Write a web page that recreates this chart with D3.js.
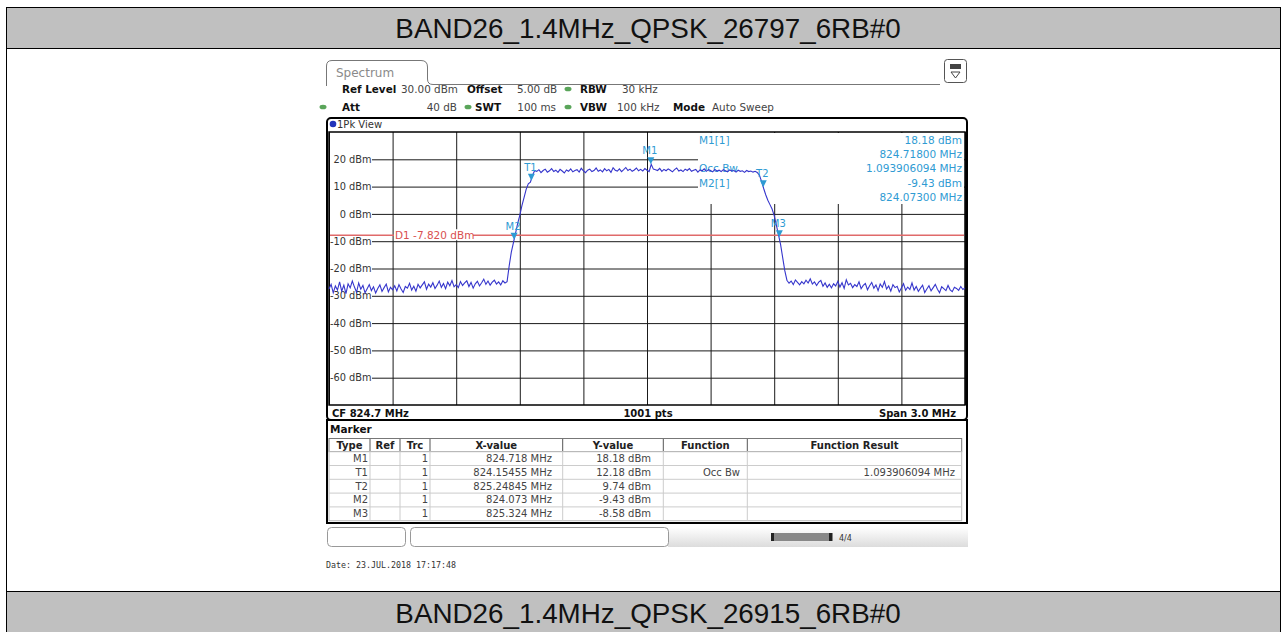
<!DOCTYPE html>
<html>
<head>
<meta charset="utf-8">
<script src="https://cdn.jsdelivr.net/npm/d3@7"></script>
<style>
  body { margin: 0; background: #fff; }
  text { font-family: "DejaVu Sans", Verdana, sans-serif; }
</style>
</head>
<body>
<div id="chart-area"></div>
<script>

// DATA
let titleTop = "BAND26_1.4MHz_QPSK_26797_6RB#0",
    titleBottom = "BAND26_1.4MHz_QPSK_26915_6RB#0";

// trace 1 (1Pk View) every 10 kHz from 823.2 MHz
let freqStart = 823.2,
    freqStop = 826.2,
    freqStep = 0.01;

let noiseLeft = [
  -27.5,-25.8,-28.9,-26.4,-27.9,-24.9,-28.3,-26.1,-29.2,-25.6,
  -27.1,-24.6,-26.8,-28.7,-25.3,-27.6,-26.2,-28.9,-27.4,-25.9,
  -28.1,-26.7,-29.0,-27.3,-26.0,-28.4,-27.0,-25.7,-28.6,-26.9,
  -27.8,-26.3,-28.2,-25.9,-27.5,-28.8,-26.6,-27.2,-25.4,-27.9,
  -26.5,-28.3,-25.8,-27.1,-26.0,-24.9,-27.6,-25.7,-26.8,-25.2,
  -27.3,-26.1,-24.6,-26.9,-25.5,-27.4,-25.0,-26.3,-24.4,-26.7,
  -25.9,-27.0,-24.8,-26.2,-25.3,-24.5,-26.6,-25.1,-27.2,-25.6,
  -24.7,-26.4,-25.2,-23.9,-25.8,-24.6,-26.1,-25.0,-24.3,-25.7,
  -24.9,-26.0,-24.5,-25.3,-24.8
];
let riseEdge = [-19,-14,-10.5,-7,-3.5,-0.5,3,6,9,11,11.6,14.2,15.8];
let plateau = [
  15.6,16.2,15.1,15.9,16.4,15.3,15.8,16.6,15.5,16.0,
  15.2,16.3,15.7,15.0,16.1,15.6,16.5,15.4,15.9,16.2,
  15.3,16.7,15.8,15.1,16.0,16.4,15.5,15.9,16.8,15.6,
  16.1,15.4,16.6,15.8,16.3,15.2,16.9,16.0,15.7,16.5,
  15.5,16.2,17.0,15.9,16.4,15.6,16.1,16.8,15.8,16.3,
  15.7,16.6,16.0,15.5,18.18,16.4,16.2,15.9,16.7,15.6,
  16.3,15.8,16.5,16.0,15.4,16.2,16.8,15.7,16.1,15.5,
  16.4,15.9,16.6,15.6,16.0,16.3,15.3,16.1,15.8,16.5,
  15.6,16.2,15.9,15.4,16.3,15.7,16.0,15.5,16.2,15.8,
  15.4,16.1,15.7,15.9,15.3,16.0,15.6,15.8,15.2,15.9,
  15.5,15.7,15.3,15.6,15.2
];
let fallEdge = [14.2,12.0,9.4,7.0,5.0,3.4,1.8,-0.6,-4.0,-7.6,-11.2,-16.0,-20.8,-24.3];
let noiseRight = [
  -25.4,-24.6,-25.9,-24.2,-25.1,-26.0,-24.8,-25.6,-24.3,-25.3,
  -23.8,-25.7,-24.9,-26.2,-25.0,-24.4,-26.5,-25.3,-26.9,-25.8,
  -27.1,-25.6,-26.4,-24.7,-26.8,-25.2,-27.3,-24.1,-26.0,-25.4,
  -27.0,-25.9,-26.6,-24.9,-27.4,-26.2,-25.5,-27.8,-26.3,-25.1,
  -27.2,-26.0,-28.1,-25.7,-26.9,-24.8,-27.5,-26.4,-28.3,-25.9,
  -27.0,-26.5,-28.6,-27.1,-25.6,-28.0,-26.8,-27.7,-25.3,-27.9,
  -26.6,-28.4,-27.2,-26.1,-28.8,-27.5,-26.3,-28.2,-27.0,-25.8,
  -27.6,-28.9,-26.7,-27.4,-28.1,-26.2,-27.8,-28.5,-26.9,-27.3,
  -28.0,-26.6,-27.7,-27.1
];

let levelTicks = [20, 10, 0, -10, -20, -30, -40, -50, -60];
let freqGrid = [823.2, 823.5, 823.8, 824.1, 824.4, 824.7, 825.0, 825.3, 825.6, 825.9, 826.2];
let displayLine = -7.82;

// marker table
let markerNames = ["M1", "T1", "T2", "M2", "M3"];
let markerTrc = [1, 1, 1, 1, 1];
let markerFreq = [824.718, 824.15455, 825.24845, 824.073, 825.324];
let markerXText = ["824.718 MHz", "824.15455 MHz", "825.24845 MHz", "824.073 MHz", "825.324 MHz"];
let markerDbm = [18.18, 12.18, 9.74, -9.43, -8.58];
let markerFunc = ["", "Occ Bw", "", "", ""];
let markerResult = ["", "1.093906094 MHz", "", "", ""];

let infoLabels = ["M1[1]", "", "Occ Bw", "M2[1]", ""];
let infoValues = ["18.18 dBm", "824.71800 MHz", "1.093906094 MHz", "-9.43 dBm", "824.07300 MHz"];

let traceDbm = noiseLeft.concat(riseEdge, plateau, fallEdge, noiseRight);
let trace = traceDbm.map(function(v, i) { return { f: freqStart + i * freqStep, v: v }; });

let width = 1287,
    height = 632;

let svg = d3.select("#chart-area").append("svg")
    .attr("width", width)
    .attr("height", height);

let blue = "#2f9bd3",
    traceColor = "#3636cc";

// PAGE FRAME AND TITLE BARS
svg.append("rect").attr("x", 6.5).attr("y", 7.5).attr("width", 1274).attr("height", 640)
    .attr("fill", "#fff").attr("stroke", "#000");
svg.append("rect").attr("x", 6.5).attr("y", 7.5).attr("width", 1274).attr("height", 41)
    .attr("fill", "#c0c0c0").attr("stroke", "#000");
svg.append("rect").attr("x", 6.5).attr("y", 591.5).attr("width", 1274).attr("height", 60)
    .attr("fill", "#c0c0c0").attr("stroke", "#000");
svg.append("text").attr("x", 648).attr("y", 38).attr("text-anchor", "middle")
    .style("font-family", "'Liberation Sans', Arial, sans-serif").style("font-size", "27.8px")
    .attr("fill", "#111").text(titleTop);
svg.append("text").attr("x", 648).attr("y", 623).attr("text-anchor", "middle")
    .style("font-family", "'Liberation Sans', Arial, sans-serif").style("font-size", "27.8px")
    .attr("fill", "#111").text(titleBottom);

// SPECTRUM TAB + SETTINGS
svg.append("path")
    .attr("d", "M326.5,86 L326.5,66 Q326.5,60.5 332,60.5 L421,60.5 Q427.5,60.5 427.5,67 L427.5,79 Q427.5,84.5 433,84.5 L940,84.5")
    .attr("fill", "none").attr("stroke", "#777");
svg.append("text").attr("x", 336).attr("y", 77).style("font-size", "12px").attr("fill", "#8a8a8a").text("Spectrum");

// icon top right
svg.append("rect").attr("x", 944.5).attr("y", 59.5).attr("width", 22).attr("height", 23).attr("rx", 3)
    .attr("fill", "#fff").attr("stroke", "#555");
svg.append("rect").attr("x", 950).attr("y", 64).attr("width", 11).attr("height", 5).attr("fill", "#444");
svg.append("path").attr("d", "M951,72 L960,72 L955.5,78 Z").attr("fill", "none").attr("stroke", "#444");

let settings = [
  { x: 342, y: 93, t: "Ref Level", b: true }, { x: 401, y: 93, t: "30.00 dBm" },
  { x: 467, y: 93, t: "Offset", b: true }, { x: 517, y: 93, t: "5.00 dB" },
  { x: 580, y: 93, t: "RBW", b: true }, { x: 622, y: 93, t: "30 kHz" },
  { x: 342, y: 111, t: "Att", b: true }, { x: 457, y: 111, t: "40 dB", a: "end" },
  { x: 475, y: 111, t: "SWT", b: true }, { x: 556, y: 111, t: "100 ms", a: "end" },
  { x: 580, y: 111, t: "VBW", b: true }, { x: 617, y: 111, t: "100 kHz" },
  { x: 673, y: 111, t: "Mode", b: true }, { x: 712, y: 111, t: "Auto Sweep" }
];
svg.selectAll(".setting").data(settings).enter().append("text")
    .attr("class", "setting")
    .attr("x", function(d) { return d.x; })
    .attr("y", function(d) { return d.y; })
    .attr("text-anchor", function(d) { return d.a || "start"; })
    .style("font-size", "10.4px")
    .style("font-weight", function(d) { return d.b ? "bold" : "normal"; })
    .attr("fill", function(d) { return d.b ? "#111" : "#444"; })
    .text(function(d) { return d.t; });
svg.selectAll(".dot").data([[568, 89], [323, 107], [468, 107], [568, 107]]).enter().append("ellipse")
    .attr("cx", function(d) { return d[0]; }).attr("cy", function(d) { return d[1]; })
    .attr("rx", 3.5).attr("ry", 2.3).attr("fill", "#5aa55a");

// 1) PLOT FRAME
svg.append("rect").attr("x", 327).attr("y", 118).attr("width", 640).attr("height", 302).attr("rx", 4)
    .attr("fill", "#fff").attr("stroke", "#000").attr("stroke-width", 2);
svg.append("circle").attr("cx", 333).attr("cy", 124).attr("r", 3.3).attr("fill", "#2233bb");
svg.append("text").attr("x", 337).attr("y", 128).style("font-size", "10px").attr("fill", "#333").text("1Pk View");

let x = d3.scaleLinear().domain([freqStart, freqStop]).range([329, 965]);
let y = d3.scaleLinear().domain([-70, 30]).range([405, 132]);

// 2) GRID
svg.append("g")
    .attr("transform", "translate(0,405)")
    .call(d3.axisBottom(x).tickValues(freqGrid).tickSize(-(405 - 132)).tickFormat(""))
    .call(function(g) { g.select(".domain").remove(); })
    .selectAll("line").attr("stroke", "#1a1a1a");

let yAxis = svg.append("g")
    .attr("transform", "translate(372,0)")
    .call(d3.axisLeft(y).tickValues(levelTicks).tickSizeInner(-593).tickSizeOuter(0).tickPadding(0.5)
      .tickFormat(function(d) { return d + " dBm"; }));
yAxis.select(".domain").remove();
yAxis.selectAll("line").attr("stroke", "#1a1a1a");
yAxis.selectAll("text").style("font-family", "'DejaVu Sans', Verdana, sans-serif")
    .style("font-size", "9.8px").attr("fill", "#333");

// white box behind marker info
svg.append("rect").attr("x", 698).attr("y", 133).attr("width", 266).attr("height", 71).attr("fill", "#fff");

svg.append("rect").attr("x", 329).attr("y", 132).attr("width", 636).attr("height", 273)
    .attr("fill", "none").attr("stroke", "#000").attr("stroke-width", 1.5);

// display line D1
svg.append("line").attr("x1", 330).attr("x2", 964)
    .attr("y1", y(displayLine)).attr("y2", y(displayLine))
    .attr("stroke", "#e06a6a").attr("stroke-width", 1.3);
svg.append("rect").attr("x", 394).attr("y", y(displayLine) - 6).attr("width", 79).attr("height", 11).attr("fill", "#fff");
svg.append("text").attr("x", 395).attr("y", y(displayLine) + 4).style("font-size", "10.5px")
    .attr("fill", "#d95050").text("D1 -7.820 dBm");

// marker info block
svg.selectAll(".infoL").data(infoLabels).enter().append("text")
    .attr("class", "infoL")
    .attr("x", 699).attr("y", function(d, i) { return 144 + i * 14.2; })
    .style("font-size", "10.5px").attr("fill", blue)
    .text(function(d) { return d; });
svg.selectAll(".infoV").data(infoValues).enter().append("text")
    .attr("class", "infoV")
    .attr("x", 962).attr("y", function(d, i) { return 144 + i * 14.2; })
    .attr("text-anchor", "end")
    .style("font-size", "10.5px").attr("fill", blue)
    .text(function(d) { return d; });

// 3) TRACE
let line = d3.line()
    .x(function(d) { return x(d.f); })
    .y(function(d) { return y(d.v); });
svg.append("path").datum(trace)
    .attr("d", line)
    .attr("fill", "none")
    .attr("stroke", traceColor)
    .attr("stroke-width", 1.1);

// 4) MARKERS ON TRACE
let marks = svg.selectAll(".mark").data(markerNames).enter().append("g").attr("class", "mark")
    .attr("transform", function(d, i) { return "translate(" + x(markerFreq[i]) + "," + y(markerDbm[i]) + ")"; });
marks.append("path").attr("d", "M-3.5,-7 L3.5,-7 L0,0 Z").attr("fill", blue);
marks.append("text").attr("x", -1).attr("y", -10).attr("text-anchor", "middle")
    .style("font-size", "10px").attr("fill", blue)
    .text(function(d) { return d; });

// bottom info row
svg.append("text").attr("x", 332).attr("y", 417).style("font-size", "10px").style("font-weight", "bold").attr("fill", "#111").text("CF 824.7 MHz");
svg.append("text").attr("x", 648).attr("y", 417).attr("text-anchor", "middle").style("font-size", "10px").style("font-weight", "bold").attr("fill", "#111").text("1001 pts");
svg.append("text").attr("x", 956).attr("y", 417).attr("text-anchor", "end").style("font-size", "10px").style("font-weight", "bold").attr("fill", "#111").text("Span 3.0 MHz");

// 5) MARKER TABLE
svg.append("rect").attr("x", 327).attr("y", 420).attr("width", 640).attr("height", 103)
    .attr("fill", "#fff").attr("stroke", "#000").attr("stroke-width", 2);
svg.append("text").attr("x", 330).attr("y", 433).style("font-size", "10.5px").style("font-weight", "bold").attr("fill", "#111").text("Marker");

let colEdges = [329, 370, 400, 430, 562.7, 663.3, 747.3, 961.7];
let headers = ["Type", "Ref", "Trc", "X-value", "Y-value", "Function", "Function Result"];
let rowTop = 451.7, rowH = 13.8;

svg.append("rect").attr("x", 329).attr("y", 438.5).attr("width", 632.7).attr("height", 13.2)
    .attr("fill", "#fff").attr("stroke", "#777");
svg.append("rect").attr("x", 329).attr("y", rowTop).attr("width", 632.7).attr("height", rowH * 5)
    .attr("fill", "#fff").attr("stroke", "#bbb");
svg.selectAll(".hdrSep").data(colEdges.slice(1, -1)).enter().append("line")
    .attr("x1", function(d) { return d; }).attr("x2", function(d) { return d; })
    .attr("y1", 439).attr("y2", 451).attr("stroke", "#555");
svg.selectAll(".colSep").data(colEdges.slice(1, -1)).enter().append("line")
    .attr("x1", function(d) { return d; }).attr("x2", function(d) { return d; })
    .attr("y1", rowTop).attr("y2", rowTop + rowH * 5).attr("stroke", "#ccc");
svg.selectAll(".rowSep").data(d3.range(1, 5)).enter().append("line")
    .attr("x1", 329).attr("x2", 961.7)
    .attr("y1", function(d) { return rowTop + d * rowH; }).attr("y2", function(d) { return rowTop + d * rowH; })
    .attr("stroke", "#ccc");
svg.selectAll(".hdr").data(headers).enter().append("text")
    .attr("x", function(d, i) { return (colEdges[i] + colEdges[i + 1]) / 2; })
    .attr("y", 449).attr("text-anchor", "middle")
    .style("font-size", "10px").style("font-weight", "bold").attr("fill", "#222")
    .text(function(d) { return d; });

let rows = markerNames.map(function(n, i) {
  return [n, "", markerTrc[i], markerXText[i], markerDbm[i].toFixed(2) + " dBm", markerFunc[i], markerResult[i]];
});
let cellRight = [368, 398, 428, 552, 651, 740, 955];
rows.forEach(function(r, ri) {
  svg.selectAll(".cell" + ri).data(r).enter().append("text")
      .attr("x", function(d, ci) { return cellRight[ci]; })
      .attr("y", rowTop + ri * rowH + 10.3)
      .attr("text-anchor", "end")
      .style("font-size", "10px").attr("fill", "#444")
      .text(function(d) { return d; });
});

// STATUS BAR
let grad = svg.append("defs").append("linearGradient").attr("id", "sb").attr("x1", 0).attr("x2", 0).attr("y1", 0).attr("y2", 1);
grad.append("stop").attr("offset", "0").attr("stop-color", "#fff");
grad.append("stop").attr("offset", "1").attr("stop-color", "#dcdcdc");
svg.append("rect").attr("x", 668).attr("y", 527).attr("width", 300).attr("height", 20).attr("fill", "url(#sb)");
svg.append("rect").attr("x", 327.5).attr("y", 527.5).attr("width", 78).attr("height", 19).attr("rx", 4)
    .attr("fill", "#fff").attr("stroke", "#999");
svg.append("rect").attr("x", 410.5).attr("y", 527.5).attr("width", 258).attr("height", 19).attr("rx", 4)
    .attr("fill", "#fff").attr("stroke", "#999");
svg.append("rect").attr("x", 771).attr("y", 533).attr("width", 62).attr("height", 8).attr("fill", "#888");
svg.append("rect").attr("x", 771).attr("y", 533).attr("width", 3).attr("height", 8).attr("fill", "#222");
svg.append("rect").attr("x", 829).attr("y", 533).attr("width", 3).attr("height", 8).attr("fill", "#222");
svg.append("text").attr("x", 839).attr("y", 541).style("font-size", "8px").attr("fill", "#333").text("4/4");

// DATE
svg.append("text").attr("x", 326).attr("y", 568)
    .style("font-family", "'DejaVu Sans Mono', monospace").style("font-size", "8.3px").attr("fill", "#333")
    .text("Date: 23.JUL.2018  17:17:48");

</script>
</body>
</html>
